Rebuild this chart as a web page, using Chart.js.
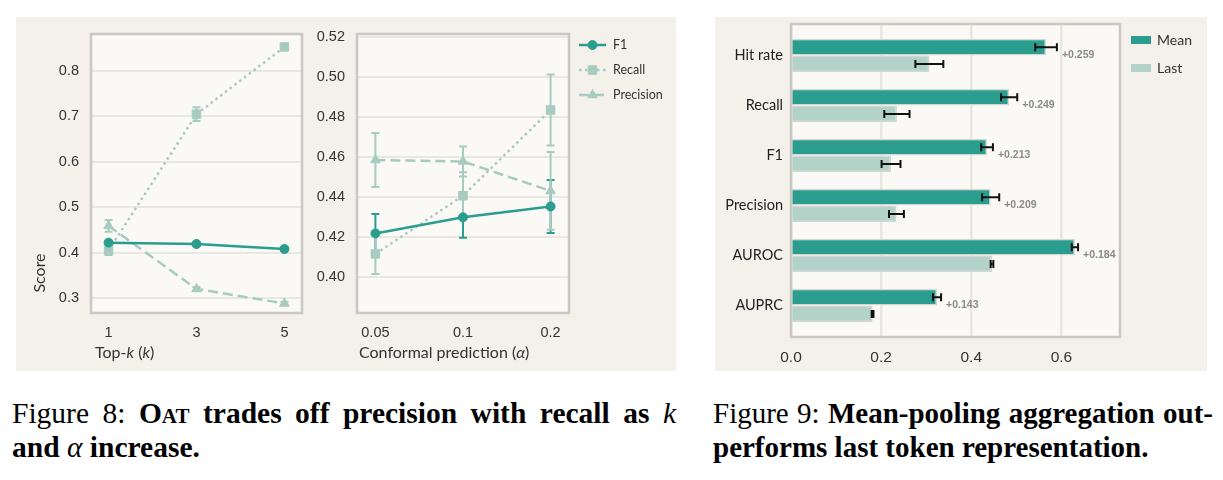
<!DOCTYPE html>
<html>
<head>
<meta charset="utf-8">
<script src="https://cdn.jsdelivr.net/npm/chart.js@4.4.1/dist/chart.umd.min.js"></script>
<style>
  body { margin: 0; width: 1223px; height: 480px; background: #fff; position: relative; overflow: hidden; }
  .panel { position: absolute; background: #f4f1eb; }
  .box { position: absolute; }
  .cap { position: absolute; font-family: "Liberation Serif", "Times New Roman", serif; font-size: 29.5px; line-height: 34px; color: #000; white-space: nowrap; }
  .cap .j { text-align: justify; text-align-last: justify; }
  .cap .m { font-weight: normal; font-style: italic; }
  .cap .sc { font-variant: small-caps; }
</style>
</head>
<body>
<div class="panel" style="left:16px;top:17px;width:660px;height:354px"></div>
<div class="panel" style="left:715px;top:17px;width:492px;height:354px"></div>
<div class="box" style="left:16px;top:17px"><canvas id="topk" width="300" height="354"></canvas></div>
<div class="box" style="left:310px;top:17px"><canvas id="alpha" width="366" height="354"></canvas></div>
<div class="box" style="left:715px;top:17px"><canvas id="pool" width="492" height="354"></canvas></div>

<div class="cap" style="left:12px;top:396px;width:664px">
  <div class="j">Figure 8: <b><span class="sc">Oat</span> trades off precision with recall as <i class="m">k</i></b></div>
  <div><b>and <i class="m">α</i> increase.</b></div>
</div>
<div class="cap" style="left:713px;top:396px;width:500px;font-size:29px">
  <div class="j">Figure 9: <b>Mean-pooling aggregation out-</b></div>
  <div><b>performs last token representation.</b></div>
</div>

<script>
// Figure 8, left: top-k
var kVals = [1, 3, 5];
var f1TopK = [0.422, 0.419, 0.408];
var f1TopKErr = [0.004, 0.003, 0.003];
var recallTopK = [0.405, 0.705, 0.853];
var recallTopKErr = [0.010, 0.015, 0.004];
var precTopK = [0.459, 0.320, 0.288];
var precTopKErr = [0.013, 0.004, 0.003];
var topKYTicks = [0.3, 0.4, 0.5, 0.6, 0.7, 0.8];

// Figure 8, right: conformal prediction alpha
var alphaLabels = ['0.05', '0.1', '0.2'];
var alphaPos = [0, 1, 2];
var f1Alpha = [0.4217, 0.4298, 0.4352];
var f1AlphaErr = [0.0097, 0.0103, 0.0133];
var recallAlpha = [0.4114, 0.4406, 0.4836];
var recallAlphaErr = [0.0100, 0.0118, 0.0178];
var precAlpha = [0.4585, 0.4578, 0.4430];
var precAlphaErr = [0.0135, 0.0075, 0.0195];
var alphaYTicks = [0.40, 0.42, 0.44, 0.46, 0.48, 0.50, 0.52];

// Figure 9: mean pooling vs last token
var metricLabels = ['Hit rate', 'Recall', 'F1', 'Precision', 'AUROC', 'AUPRC'];
var meanVals = [0.566, 0.484, 0.435, 0.443, 0.630, 0.324];
var meanErr = [0.024, 0.018, 0.013, 0.019, 0.007, 0.009];
var lastVals = [0.307, 0.235, 0.222, 0.234, 0.446, 0.181];
var lastErr = [0.031, 0.028, 0.021, 0.0165, 0.003, 0.002];
var gainLabels = ['+0.259', '+0.249', '+0.213', '+0.209', '+0.184', '+0.143'];
var poolXTicks = [0, 0.2, 0.4, 0.6];

var TEAL = '#2a9d8f';
var PALE = '#a8cbc1';
var LAST = '#b3d3ca';
var GRID = '#e9e7e2';
var LABEL_FONT = 'Lato, "DejaVu Sans", sans-serif';
var TICK_FONT = '"Liberation Sans", Arial, sans-serif';

var framePlugin = {
  id: 'frame',
  beforeDraw: function (chart) {
    var a = chart.chartArea, ctx = chart.ctx;
    ctx.save();
    ctx.fillStyle = '#faf9f6';
    ctx.fillRect(a.left, a.top, a.right - a.left, a.bottom - a.top);
    ctx.restore();
  },
  afterDraw: function (chart) {
    var a = chart.chartArea, ctx = chart.ctx;
    ctx.save();
    ctx.strokeStyle = '#c8c8c5';
    ctx.lineWidth = 2.5;
    ctx.strokeRect(a.left, a.top, a.right - a.left, a.bottom - a.top);
    ctx.restore();
  }
};

function drawErrors(chart) {
  var ctx = chart.ctx;
  var horiz = chart.options.indexAxis === 'y';
  chart.data.datasets.forEach(function (ds, di) {
    if (!ds.errs) return;
    var meta = chart.getDatasetMeta(di);
    ctx.save();
    ctx.strokeStyle = ds.errColor || ds.borderColor;
    ctx.lineWidth = 2;
    ctx.setLineDash([]);
    meta.data.forEach(function (el, j) {
      var p = meta.controller.getParsed(j);
      var e = ds.errs[j];
      ctx.beginPath();
      if (horiz) {
        var xs = chart.scales.x;
        var x1 = xs.getPixelForValue(p.x - e), x2 = xs.getPixelForValue(p.x + e);
        ctx.moveTo(x1, el.y); ctx.lineTo(x2, el.y);
        ctx.moveTo(x1, el.y - 4); ctx.lineTo(x1, el.y + 4);
        ctx.moveTo(x2, el.y - 4); ctx.lineTo(x2, el.y + 4);
      } else {
        var ys = chart.scales.y;
        var y1 = ys.getPixelForValue(p.y - e), y2 = ys.getPixelForValue(p.y + e);
        ctx.moveTo(el.x, y1); ctx.lineTo(el.x, y2);
        ctx.moveTo(el.x - 4, y1); ctx.lineTo(el.x + 4, y1);
        ctx.moveTo(el.x - 4, y2); ctx.lineTo(el.x + 4, y2);
      }
      ctx.stroke();
    });
    ctx.restore();
  });
}

var errPlugin = {
  id: 'errbars',
  beforeDatasetsDraw: function (chart) { if (chart.options.indexAxis !== 'y') drawErrors(chart); },
  afterDatasetsDraw: function (chart) { if (chart.options.indexAxis === 'y') drawErrors(chart); }
};

function axisTitles(xSegs, xOffset, yText) {
  return {
    id: 'axisTitles',
    afterDraw: function (chart) {
      var ctx = chart.ctx, a = chart.chartArea;
      ctx.save();
      ctx.fillStyle = '#333';
      ctx.textBaseline = 'middle';
      ctx.textAlign = 'left';
      var x = a.left + xOffset, y = a.bottom + 40;
      xSegs.forEach(function (s) {
        ctx.font = (s.it ? 'italic ' : '') + '16px ' + LABEL_FONT;
        ctx.fillText(s.t, x, y);
        x += ctx.measureText(s.t).width;
      });
      if (yText) {
        ctx.translate(24, a.bottom - 40);
        ctx.rotate(-Math.PI / 2);
        ctx.textAlign = 'center';
        ctx.font = '16px ' + LABEL_FONT;
        ctx.fillText(yText, 0, 0);
      }
      ctx.restore();
    }
  };
}

var lineLegend = {
  id: 'lineLegend',
  afterDraw: function (chart) {
    var ctx = chart.ctx, a = chart.chartArea;
    chart.data.datasets.forEach(function (ds, i) {
      var y = a.top + 11 + i * 25;
      var x0 = a.right + 10, x1 = a.right + 37;
      ctx.save();
      ctx.strokeStyle = ds.borderColor;
      ctx.lineWidth = ds.borderWidth;
      ctx.setLineDash(ds.borderDash || []);
      ctx.beginPath(); ctx.moveTo(x0, y); ctx.lineTo(x1, y); ctx.stroke();
      ctx.setLineDash([]);
      ctx.fillStyle = ds.pointBackgroundColor;
      ctx.strokeStyle = ds.pointBorderColor;
      ctx.lineWidth = 1;
      Chart.helpers.drawPoint(ctx, { pointStyle: ds.pointStyle, radius: ds.pointRadius, borderWidth: 1, rotation: 0 }, (x0 + x1) / 2, y);
      ctx.fillStyle = '#333';
      ctx.font = '12.5px ' + LABEL_FONT;
      ctx.textBaseline = 'middle';
      ctx.fillText(ds.label, a.right + 44, y);
      ctx.restore();
    });
  }
};

var barExtras = {
  id: 'barExtras',
  afterDraw: function (chart) {
    var ctx = chart.ctx, a = chart.chartArea;
    var m0 = chart.getDatasetMeta(0), m1 = chart.getDatasetMeta(1);
    var xs = chart.scales.x;
    ctx.save();
    ctx.font = 'bold 10.5px ' + TICK_FONT;
    ctx.fillStyle = '#8a8a8a';
    ctx.textBaseline = 'middle';
    ctx.textAlign = 'left';
    gainLabels.forEach(function (t, i) {
      var x = xs.getPixelForValue(meanVals[i] + meanErr[i]) + 5;
      var y = (m0.data[i].y + m1.data[i].y) / 2;
      ctx.fillText(t, x, y);
    });
    ctx.font = '14px ' + LABEL_FONT;
    chart.data.datasets.forEach(function (ds, i) {
      var y = a.top + 16 + i * 28;
      ctx.fillStyle = ds.backgroundColor;
      ctx.fillRect(a.right + 11, y - 4, 20, 8);
      ctx.fillStyle = '#333';
      ctx.fillText(ds.label, a.right + 37, y);
    });
    ctx.restore();
  }
};

function fixTicks(values) {
  return function (scale) { scale.ticks = values.map(function (v) { return { value: v }; }); };
}

// pin axis boxes to exact sizes so the plot frame lands where the figure has it
function fitX(h) {
  return function (s) { s.height = h; s.paddingLeft = 0; s.paddingRight = 0; };
}
function fitY(w) {
  return function (s) { s.width = w; s.paddingTop = 0; s.paddingBottom = 0; };
}

function lineSet(label, xs, ys, errs, color, dash, style, radius) {
  return {
    label: label,
    data: ys.map(function (v, i) { return { x: xs[i], y: v }; }),
    errs: errs,
    borderColor: color,
    backgroundColor: color,
    borderWidth: 2.5,
    borderDash: dash,
    pointStyle: style,
    pointRadius: radius,
    pointBackgroundColor: color,
    pointBorderColor: color,
    pointBorderWidth: 1,
    tension: 0
  };
}

function lineOptions(xMin, xMax, xTicks, xFmt, yMin, yMax, yTicks, yFmt, pad, yWidth) {
  return {
    responsive: false,
    animation: false,
    events: [],
    layout: { padding: pad },
    plugins: { legend: { display: false }, tooltip: { enabled: false } },
    scales: {
      x: {
        type: 'linear', min: xMin, max: xMax,
        afterBuildTicks: fixTicks(xTicks),
        afterFit: fitX(58),
        grid: { display: false, drawTicks: false },
        border: { display: false },
        ticks: { padding: 11, color: '#333', font: { family: TICK_FONT, size: 14.5 }, callback: xFmt }
      },
      y: {
        min: yMin, max: yMax,
        afterBuildTicks: fixTicks(yTicks),
        afterFit: fitY(yWidth),
        grid: { color: GRID, lineWidth: 2, drawTicks: false },
        border: { display: false },
        ticks: { padding: 12, color: '#333', font: { family: TICK_FONT, size: 14.5 }, callback: yFmt }
      }
    }
  };
}

new Chart(document.getElementById('topk'), {
  type: 'line',
  data: {
    datasets: [
      lineSet('F1', kVals, f1TopK, f1TopKErr, TEAL, [], 'circle', 4.5),
      lineSet('Recall', kVals, recallTopK, recallTopKErr, PALE, [2.5, 3.5], 'rect', 6),
      lineSet('Precision', kVals, precTopK, precTopKErr, PALE, [10, 5], 'triangle', 5.5)
    ]
  },
  options: lineOptions(0.6, 5.4, kVals, function (v) { return String(v); },
    0.267, 0.8815, topKYTicks, function (v) { return v.toFixed(1); },
    { top: 17, right: 14, bottom: 0, left: 0 }, 75),
  plugins: [framePlugin, errPlugin,
    axisTitles([{ t: 'Top-' }, { t: 'k', it: true }, { t: ' (' }, { t: 'k', it: true }, { t: ')' }], 4, 'Score')]
});

new Chart(document.getElementById('alpha'), {
  type: 'line',
  data: {
    datasets: [
      lineSet('F1', alphaPos, f1Alpha, f1AlphaErr, TEAL, [], 'circle', 4.5),
      lineSet('Recall', alphaPos, recallAlpha, recallAlphaErr, PALE, [2.5, 3.5], 'rect', 6),
      lineSet('Precision', alphaPos, precAlpha, precAlphaErr, PALE, [10, 5], 'triangle', 5.5)
    ]
  },
  options: lineOptions(-0.21, 2.21, alphaPos, function (v) { return alphaLabels[v]; },
    0.3818, 0.5217, alphaYTicks, function (v) { return v.toFixed(2); },
    { top: 17, right: 107, bottom: 0, left: 0 }, 47),
  plugins: [framePlugin, errPlugin, lineLegend,
    axisTitles([{ t: 'Conformal prediction (' }, { t: 'α', it: true }, { t: ')' }], 2, null)]
});

new Chart(document.getElementById('pool'), {
  type: 'bar',
  data: {
    datasets: [
      {
        label: 'Mean',
        data: meanVals.map(function (v, i) { return { x: v, y: i }; }),
        errs: meanErr, errColor: '#111',
        backgroundColor: TEAL, borderColor: '#d6d6d2', borderWidth: 1.5,
        categoryPercentage: 0.67, barPercentage: 1
      },
      {
        label: 'Last',
        data: lastVals.map(function (v, i) { return { x: v, y: i }; }),
        errs: lastErr, errColor: '#111',
        backgroundColor: LAST, borderColor: '#d6d6d2', borderWidth: 1.5,
        categoryPercentage: 0.67, barPercentage: 1
      }
    ]
  },
  options: {
    indexAxis: 'y',
    responsive: false,
    animation: false,
    events: [],
    layout: { padding: { top: 7, right: 87, bottom: 0, left: 0 } },
    plugins: { legend: { display: false }, tooltip: { enabled: false } },
    scales: {
      x: {
        type: 'linear', min: 0, max: 0.73,
        afterBuildTicks: fixTicks(poolXTicks),
        afterFit: fitX(34),
        grid: { color: GRID, lineWidth: 2.5, drawTicks: false },
        border: { display: false },
        ticks: { padding: 11, color: '#333', font: { family: TICK_FONT, size: 15.5 }, callback: function (v) { return v.toFixed(1); } }
      },
      y: {
        type: 'linear', min: -0.63, max: 5.63, reverse: true, offset: false,
        afterBuildTicks: fixTicks([0, 1, 2, 3, 4, 5]),
        afterFit: fitY(76),
        grid: { display: false, drawTicks: false, offset: false },
        border: { display: false },
        ticks: { padding: 8, color: '#222', font: { family: LABEL_FONT, size: 14.5 }, callback: function (v) { return metricLabels[v]; } }
      }
    }
  },
  plugins: [framePlugin, errPlugin, barExtras]
});
</script>
</body>
</html>
